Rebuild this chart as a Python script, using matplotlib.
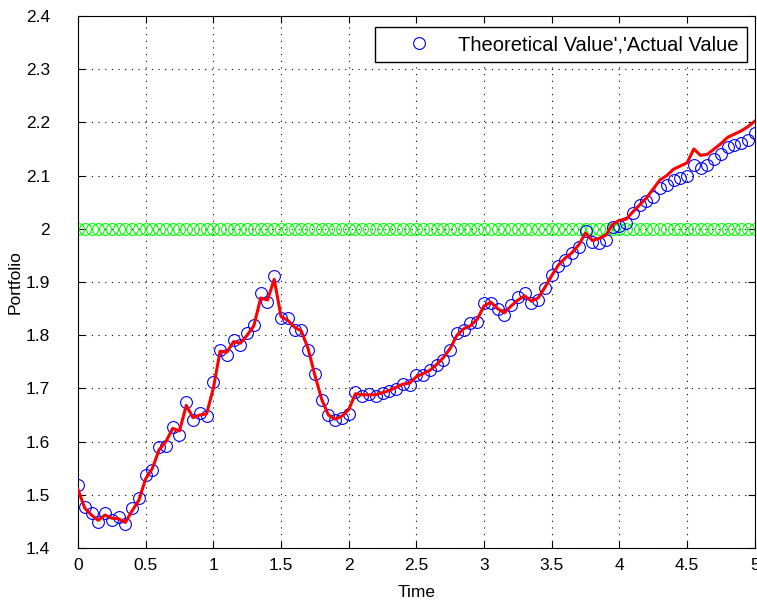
import matplotlib
matplotlib.use("Agg")
import matplotlib.pyplot as plt
import numpy as np

# sample times (step 0.05 from 0 to 5)
time = np.linspace(0, 5, 101)

theoretical = [
    1.518, 1.478, 1.465, 1.449, 1.466, 1.453, 1.459, 1.445, 1.475, 1.494,
    1.538, 1.547, 1.590, 1.592, 1.628, 1.612, 1.674, 1.641, 1.654, 1.649,
    1.712, 1.773, 1.763, 1.791, 1.782, 1.804, 1.819, 1.879, 1.863, 1.911,
    1.832, 1.833, 1.810, 1.809, 1.773, 1.728, 1.678, 1.650, 1.640, 1.645,
    1.652, 1.693, 1.686, 1.690, 1.686, 1.691, 1.695, 1.699, 1.709, 1.706,
    1.726, 1.725, 1.735, 1.744, 1.753, 1.772, 1.804, 1.810, 1.822, 1.824,
    1.860, 1.860, 1.850, 1.838, 1.857, 1.872, 1.880, 1.860, 1.866, 1.888,
    1.913, 1.930, 1.941, 1.954, 1.966, 1.996, 1.975, 1.973, 1.979, 2.003,
    2.005, 2.010, 2.030, 2.045, 2.052, 2.059, 2.076, 2.082, 2.092, 2.095,
    2.100, 2.120, 2.114, 2.120, 2.132, 2.140, 2.154, 2.157, 2.161, 2.167,
    2.180,
]

actual = [
    1.510, 1.475, 1.462, 1.452, 1.462, 1.456, 1.455, 1.448, 1.470, 1.490,
    1.530, 1.550, 1.585, 1.600, 1.625, 1.620, 1.668, 1.645, 1.650, 1.652,
    1.700, 1.770, 1.768, 1.788, 1.785, 1.800, 1.818, 1.870, 1.866, 1.905,
    1.835, 1.828, 1.815, 1.808, 1.775, 1.725, 1.680, 1.650, 1.642, 1.648,
    1.660, 1.690, 1.688, 1.688, 1.688, 1.692, 1.696, 1.702, 1.708, 1.710,
    1.722, 1.728, 1.734, 1.745, 1.758, 1.775, 1.800, 1.812, 1.818, 1.830,
    1.855, 1.862, 1.850, 1.842, 1.855, 1.866, 1.874, 1.864, 1.870, 1.890,
    1.912, 1.932, 1.945, 1.955, 1.970, 1.992, 1.978, 1.982, 1.988, 2.008,
    2.016, 2.018, 2.032, 2.045, 2.058, 2.075, 2.092, 2.100, 2.112, 2.118,
    2.124, 2.150, 2.138, 2.140, 2.150, 2.160, 2.172, 2.178, 2.184, 2.192,
    2.202,
]

target = [2.0] * len(time)

xticks = [0, 0.5, 1, 1.5, 2, 2.5, 3, 3.5, 4, 4.5, 5]
xticklabels = ["0", "0.5", "1", "1.5", "2", "2.5", "3", "3.5", "4", "4.5", "5"]
yticks = [1.4, 1.5, 1.6, 1.7, 1.8, 1.9, 2.0, 2.1, 2.2, 2.3, 2.4]
yticklabels = ["1.4", "1.5", "1.6", "1.7", "1.8", "1.9", "2", "2.1", "2.2", "2.3", "2.4"]

plt.rcParams["font.family"] = ["Liberation Sans", "DejaVu Sans"]

fig = plt.figure(figsize=(7.57, 6.03), dpi=100)
ax = fig.add_axes([0.103, 0.0912, 0.894, 0.8823])

ax.plot(time, target, "o", color="#00ff00", mfc="none", ms=8.5, mew=0.8, zorder=2)
ax.plot(time, theoretical, "o", color="blue", mfc="none", ms=8.5, mew=0.8,
        label="Theoretical Value','Actual Value", zorder=3)
ax.plot(time, actual, "-", color="red", lw=2.2, zorder=4)

ax.set_xlim(0, 5)
ax.set_ylim(1.4, 2.4)
ax.set_xticks(xticks)
ax.set_xticklabels(xticklabels)
ax.set_yticks(yticks)
ax.set_yticklabels(yticklabels)
ax.tick_params(direction="in", top=True, right=True, length=5, width=0.8,
               labelsize=12.5)
ax.tick_params(axis="x", pad=7)
ax.tick_params(axis="y", pad=20)
ax.grid(True, linestyle=(0, (1, 5)), color="black", linewidth=0.8)
for s in ax.spines.values():
    s.set_linewidth(0.8)

ax.set_xlabel("Time", fontsize=12.5, labelpad=9)
ax.set_ylabel("Portfolio", fontsize=12.5, labelpad=2)

leg = ax.legend(loc="upper right", bbox_to_anchor=(0.988, 0.979),
                borderaxespad=0, fontsize=14.5, fancybox=False, framealpha=1,
                edgecolor="black", borderpad=0.4, handlelength=3.5,
                handletextpad=0.2)
leg.get_frame().set_linewidth(1.0)

fig.savefig("out.png", dpi=100)
